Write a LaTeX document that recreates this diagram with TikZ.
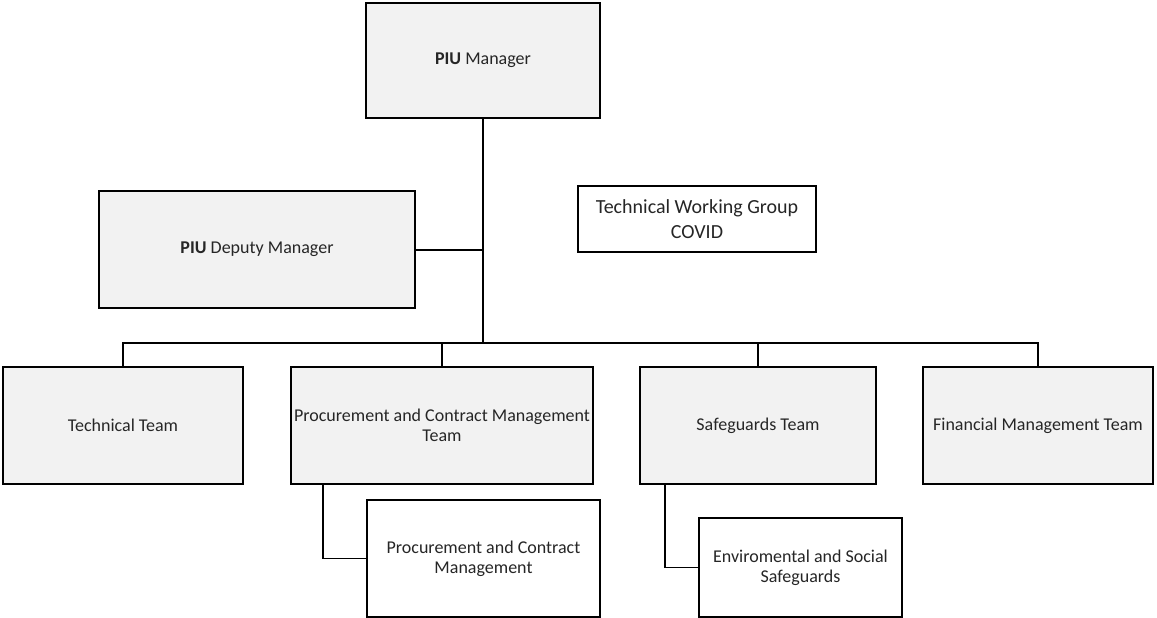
\documentclass[tikz,border=0pt]{standalone}
\usepackage{fontspec}
\setmainfont{Carlito}
\begin{document}
\begin{tikzpicture}[x=1pt,y=-1pt,
  greybox/.style={draw=black, line width=1.6pt, fill={rgb,255:red,242;green,242;blue,242}, inner sep=0pt, align=center, font=\fontsize{18}{20}\selectfont, text=black!85},
  whitebox/.style={draw=black, line width=1.6pt, fill=white, inner sep=0pt, align=center, font=\fontsize{18}{20}\selectfont, text=black!85},
  link/.style={draw=black, line width=1.5pt},
  trunk/.style={draw=black, line width=2.4pt}]
\useasboundingbox (0,0) rectangle (1157,618);
\fill[white] (0,0) rectangle (1157,618);
% boxes: centre = (x1+x2)/2, size = x2-x1
\node[greybox, minimum width=234pt, minimum height=115pt] (mgr) at (483,60.5) {\textbf{PIU} Manager};
\node[greybox, minimum width=316pt, minimum height=117pt] (dep) at (257,249.5) {\textbf{PIU} Deputy Manager};
\node[whitebox, minimum width=238pt, minimum height=66pt, font=\fontsize{20}{25}\selectfont] (twg) at (697,219) {Technical Working Group\\COVID};
\node[greybox, minimum width=240pt, minimum height=117pt] (tech) at (123,425.5) {Technical Team};
\node[greybox, minimum width=302pt, minimum height=117pt] (proc) at (442,425.5) {Procurement and Contract Management\\Team};
\node[greybox, minimum width=236pt, minimum height=117pt] (safe) at (758,425.5) {Safeguards Team};
\node[greybox, minimum width=230pt, minimum height=117pt] (fin) at (1038,425.5) {Financial Management Team};
\node[whitebox, minimum width=233pt, minimum height=117pt] (pcm) at (483.5,558.5) {Procurement and Contract\\Management};
\node[whitebox, minimum width=203pt, minimum height=99pt] (es) at (800.5,567.5) {Enviromental and Social\\Safeguards};
% connectors
\coordinate (hub) at (483,343);
\coordinate (depj) at (483,250);
\draw[trunk] (mgr.south) -- (hub);
\draw[link] (dep.east |- depj) -- (depj);
\draw[link] (tech.north) -- (tech.north |- hub) -- (fin.north |- hub) -- (fin.north);
\draw[link] (proc.north |- hub) -- (proc.north);
\draw[link] (safe.north |- hub) -- (safe.north);
\draw[link] (proc.south -| 323,0) -- (323,0 |- pcm.west) -- (pcm.west);
\draw[link] (safe.south -| 665,0) -- (665,0 |- es.west) -- (es.west);
\end{tikzpicture}
\end{document}
